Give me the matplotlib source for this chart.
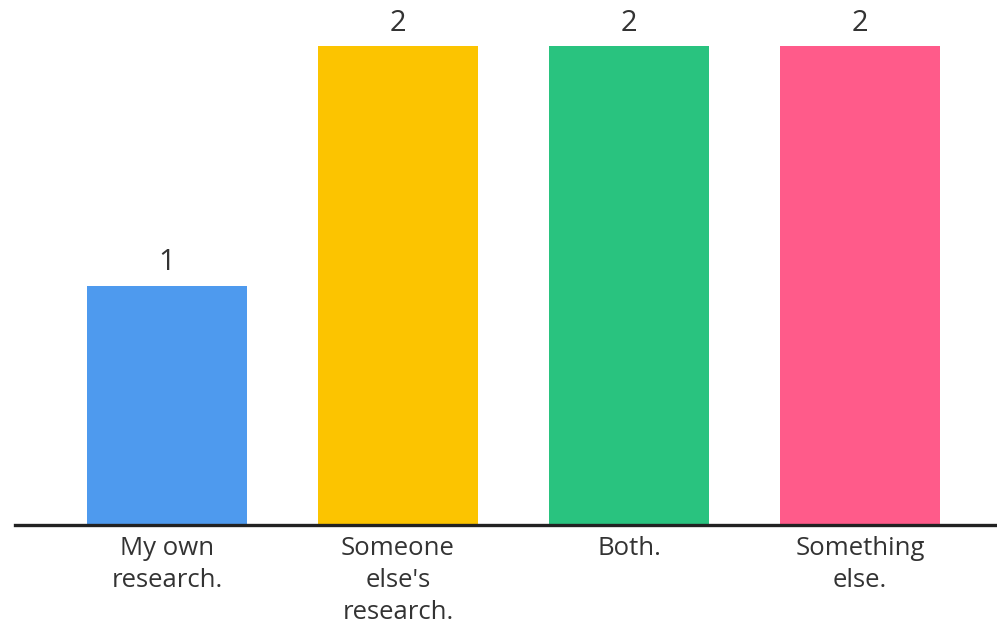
import matplotlib.pyplot as plt

categories = ["My own\nresearch.", "Someone\nelse's\nresearch.", "Both.", "Something\nelse."]
values = [1, 2, 2, 2]
colors = ["#4E9AEE", "#FCC400", "#29C37F", "#FF5B8A"]

plt.rcParams['font.family'] = ['Open Sans', 'DejaVu Sans']

fig = plt.figure(figsize=(9.97, 6.28), dpi=100)
ax = fig.add_axes([0.015, 103 / 628, 0.985, 525 / 628])

x = range(len(categories))
bars = ax.bar(x, values, width=0.695, color=colors)

for xi, v in zip(x, values):
    ax.text(xi, v + 0.035, str(v), ha="center", va="bottom", fontsize=21, color="#333333")

ax.set_xlim(-0.658, 3.593)
ax.set_ylim(0, 525 / 239.5)

for s in ["top", "right", "left"]:
    ax.spines[s].set_visible(False)
ax.spines["bottom"].set_linewidth(2.4)
ax.spines["bottom"].set_color("#222222")
ax.set_yticks([])
ax.set_xticks(list(x))
ax.set_xticklabels(categories, fontsize=18.5, color="#333333", linespacing=1.37)
ax.tick_params(axis="x", length=0, pad=8)

fig.savefig("out.png", dpi=100)
